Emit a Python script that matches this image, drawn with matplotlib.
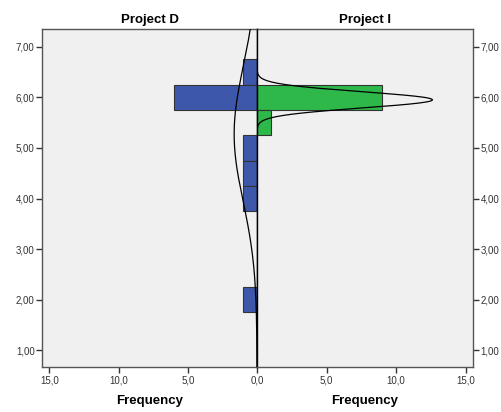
import numpy as np
import matplotlib
matplotlib.use("Agg")
import matplotlib.pyplot as plt

plt.rcParams['font.family'] = ['Liberation Sans', 'DejaVu Sans']

# Histogram bins (centres, width 0.5) and frequencies
bin_centers_D = [6.5, 6.0, 5.0, 4.5, 4.0, 2.0]
freq_D = [1, 6, 1, 1, 1, 1]
bin_centers_I = [6.0, 5.5]
freq_I = [9, 1]
bin_width = 0.5

panel_titles = ["Project D", "Project I"]
y_ticks = [1, 2, 3, 4, 5, 6, 7]
x_ticks_left = [15, 10, 5, 0]
x_ticks_right = [5, 10, 15]

blue = "#3D57AB"
green = "#2FB84A"
bg = "#F0F0F0"
edge = "#333333"


def normal_fit(centers, freqs):
    c = np.array(centers, float)
    f = np.array(freqs, float)
    n = f.sum()
    m = (c * f).sum() / n
    sd = np.sqrt(((c - m) ** 2 * f).sum() / (n - 1))
    return n, m, sd


W, H = 502, 412
fig = plt.figure(figsize=(W / 100, H / 100), dpi=100)
left, mid, right = 42, 257, 473
top, bottom = 29, 367
axL = fig.add_axes([left / W, 1 - bottom / H, (mid - left) / W, (bottom - top) / H])
axR = fig.add_axes([mid / W, 1 - bottom / H, (right - mid) / W, (bottom - top) / H])

ylim = (0.67, 7.35)
yy = np.linspace(ylim[0], ylim[1], 600)

for ax, centers, freqs, col, title in [
    (axL, bin_centers_D, freq_D, blue, panel_titles[0]),
    (axR, bin_centers_I, freq_I, green, panel_titles[1]),
]:
    ax.set_facecolor(bg)
    ax.barh(centers, freqs, height=bin_width, color=col, edgecolor=edge,
            linewidth=0.8, zorder=2)
    n, m, sd = normal_fit(centers, freqs)
    curve = n * bin_width / (sd * np.sqrt(2 * np.pi)) * np.exp(-0.5 * ((yy - m) / sd) ** 2)
    ax.plot(curve, yy, color="black", linewidth=0.9, zorder=3)
    ax.set_ylim(*ylim)
    ax.set_yticks(y_ticks)
    ax.set_yticklabels([f"{v:.2f}".replace(".", ",") for v in y_ticks])
    for s in ax.spines.values():
        s.set_color("#555555")
        s.set_linewidth(1.0)
    ax.tick_params(axis="y", labelsize=7, colors="#333333", length=4.5, width=1.0,
                   pad=0.8, labelcolor="#333333")
    ax.tick_params(axis="x", labelsize=7, colors="#333333", length=4, width=1.0,
                   pad=2, labelcolor="#333333")
    ax.set_xlabel("Frequency", fontsize=9.5, fontweight="bold", labelpad=7)
    ax.set_title(title, fontsize=9.5, fontweight="bold", pad=4)

axL.set_xlim(15.53, 0)
axL.set_xticks(x_ticks_left)
axL.set_xticklabels([f"{v:.1f}".replace(".", ",") for v in x_ticks_left])
axR.set_xlim(0, 15.53)
axR.set_xticks(x_ticks_right)
axR.set_xticklabels([f"{v:.1f}".replace(".", ",") for v in x_ticks_right])

axR.yaxis.tick_right()
axL.spines["right"].set_color("black")
axR.spines["left"].set_color("black")

fig.savefig("out.png", dpi=100)
